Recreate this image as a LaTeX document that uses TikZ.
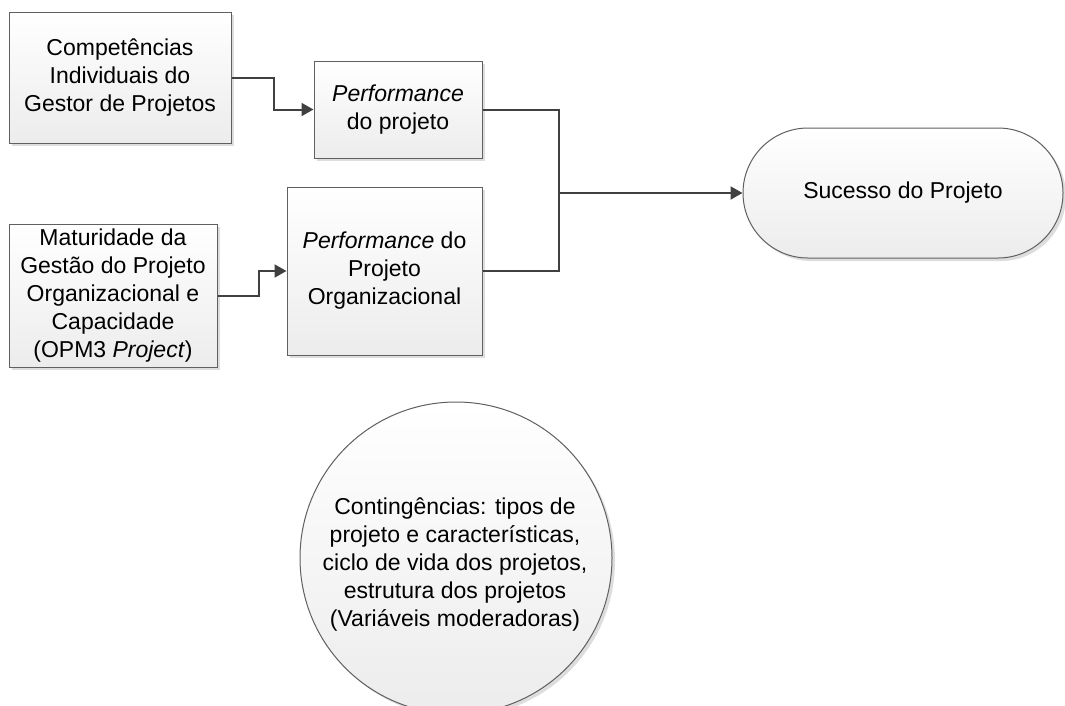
\documentclass[tikz,border=0pt]{standalone}
\usepackage{fontspec}
\setmainfont{Liberation Sans}
\usetikzlibrary{arrows.meta,shadows,shapes.misc}
\definecolor{edgegray}{RGB}{96,96,96}
\definecolor{linkgray}{RGB}{64,64,64}
\definecolor{fillbottom}{RGB}{236,236,236}
\tikzset{
  shapebase/.style={draw=edgegray, line width=1pt, top color=white, bottom color=fillbottom,
    drop shadow={shadow xshift=3pt, shadow yshift=-3pt, opacity=0.22, fill=black!60},
    align=center, font=\fontsize{23pt}{28pt}\selectfont, inner sep=0pt},
  boxnode/.style={shapebase, rectangle},
  labeltext/.style={align=center, font=\fontsize{23pt}{28pt}\selectfont, inner sep=0pt},
  link/.style={draw=linkgray, line width=2pt},
  linkarrow/.style={link, -{Triangle[length=12pt,width=13pt]}}
}
\begin{document}
\begin{tikzpicture}[x=1pt,y=-1pt]
\useasboundingbox (0,0) rectangle (1065,705);

% input boxes
\node[boxnode, minimum width=222pt, minimum height=131pt] (comp) at (120,77.5)
  {Competências\\Individuais do\\Gestor de Projetos};
\node[boxnode, minimum width=168pt, minimum height=97pt] (perf) at (398,109.5)
  {\textit{Performance}\\do projeto};
\node[boxnode, minimum width=208pt, minimum height=143pt] (matur) at (113,295.5)
  {Maturidade da\\Gestão do Projeto\\Organizacional e\\Capacidade\\(OPM3 \textit{Project})};
\node[boxnode, minimum width=195pt, minimum height=168pt] (perforg) at (384.5,271)
  {\textit{Performance} do\\Projeto\\Organizacional};

% outcome
\node[shapebase, rounded rectangle, minimum width=320pt, minimum height=130pt] (succ) at (903,193)
  {Sucesso do Projeto};

% moderating variables: the circle runs past the lower page edge
\node[shapebase, circle, minimum size=312pt] (cont) at (456,558) {};
\node[labeltext] (conttext) at (455,564)
  {Contingências: tipos de\\projeto e características,\\ciclo de vida dos projetos,\\estrutura dos projetos\\(Variáveis moderadoras)};

% connectors
\coordinate (join) at (559,193);
\draw[linkarrow] (comp.east) -- ++(42,0) |- (perf.west);
\draw[linkarrow] (matur.east) -- ++(41,0) |- (perforg.west);
\draw[link] (perf.east) -| (join);
\draw[link] (perforg.east) -| (join);
\draw[linkarrow] (join) -- (succ.west);
\end{tikzpicture}
\end{document}
